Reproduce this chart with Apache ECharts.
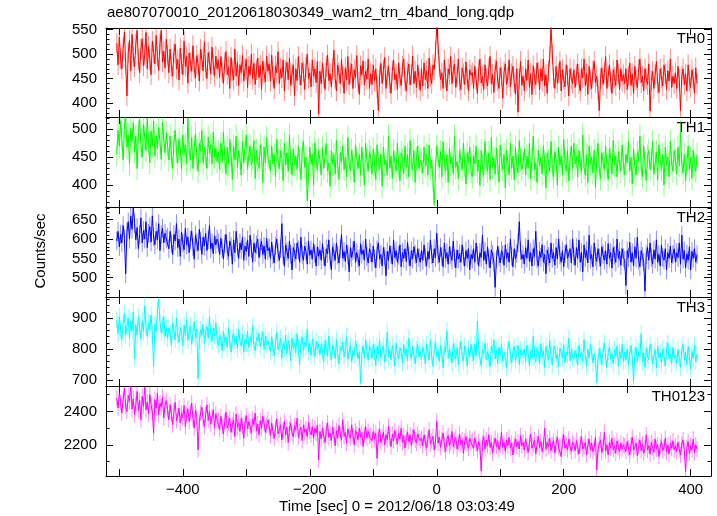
<!DOCTYPE html>
<html><head><meta charset="utf-8">
<script src="https://cdn.jsdelivr.net/npm/echarts@6/dist/echarts.min.js"></script>
<style>html,body{margin:0;padding:0;background:#fff}#c{width:717px;height:516px}</style>
</head><body><div id="c"></div>
<script>
// time bins (seconds from 2012/06/18 03:03:49)
const T_START = -504, T_STEP = 2;

const th0 = [
522,478,535,490,470,512,545,481,415,503,528,466,540,495,474,520,548,488,462,510,531,476,498,544,470,515,489,458,526,503,480,538,495,467,521,548,484,506,472,530,
498,462,510,474,455,503,520,470,489,447,512,480,458,526,475,495,441,502,483,465,517,470,452,497,480,445,510,488,466,525,472,450,503,486,460,514,478,455,496,470,
488,452,495,463,440,482,505,458,474,430,493,466,447,510,455,484,436,478,462,497,445,470,489,432,475,458,500,449,481,438,468,492,452,477,428,486,461,443,496,465,
480,445,498,455,430,476,462,505,440,470,452,488,425,466,483,448,492,436,460,478,415,470,446,495,458,437,482,465,428,474,500,450,462,433,488,455,470,442,485,378,
465,440,482,452,428,475,498,446,460,433,470,508,450,425,478,462,440,489,455,420,472,447,495,438,461,480,430,468,452,497,443,418,476,458,486,437,465,449,490,430,
460,438,478,445,470,432,385,455,481,440,468,493,430,457,475,442,420,466,488,447,459,428,482,451,436,475,490,445,425,462,480,437,458,496,440,465,432,478,450,426,
470,435,482,448,465,430,492,455,440,478,468,505,555,520,475,448,462,430,488,452,425,470,458,495,440,466,480,432,455,490,445,428,472,460,438,484,450,425,468,457,
462,430,475,448,420,466,490,441,455,428,478,450,435,470,495,440,458,422,468,486,445,430,472,455,410,463,480,438,452,488,433,460,475,442,418,470,382,450,485,437,
455,425,470,446,488,432,460,418,476,450,438,482,462,428,470,445,490,435,458,420,466,495,555,500,452,430,475,441,460,485,425,468,448,433,478,456,415,470,450,440,
468,432,458,480,440,425,470,452,490,436,460,418,475,448,430,466,485,442,455,428,385,450,472,438,462,495,430,455,478,445,420,468,452,436,488,460,428,470,445,458,
440,470,428,455,482,436,460,420,475,448,432,468,490,442,455,425,470,450,438,480,384,446,465,430,458,485,440,422,470,452,435,478,460,428,466,445,490,432,455,440,
462,430,475,448,385,455,470,438,460,425,478,445,432,468,450,420,472,440];

const th1 = [
455,498,470,515,482,445,506,520,468,490,438,502,478,512,460,488,430,495,518,472,450,508,485,462,520,476,440,497,470,515,452,489,466,503,478,446,512,480,458,494,
470,445,488,452,430,476,498,460,440,482,465,428,490,455,472,438,520,462,445,485,430,468,492,450,425,475,460,498,440,468,452,430,486,458,472,438,495,450,466,442,
460,428,475,442,495,450,420,468,438,482,455,410,470,445,488,432,462,448,418,478,440,465,490,428,455,470,436,448,480,412,462,445,430,472,455,405,468,440,485,450,
452,425,470,438,455,415,482,444,430,462,448,408,475,436,458,425,490,442,418,465,437,452,428,470,445,410,460,478,432,450,372,420,468,438,455,400,476,445,428,462,
445,418,468,430,452,475,425,440,398,462,438,455,420,480,435,410,458,442,470,428,450,415,485,436,426,462,440,405,472,448,430,455,418,468,438,400,475,444,425,460,
450,420,465,438,410,472,442,428,455,398,468,436,445,418,488,430,452,412,462,440,425,475,435,408,458,446,420,470,432,455,415,480,438,428,462,405,448,470,430,445,
440,422,468,435,455,418,472,430,445,410,365,428,470,448,432,460,415,478,440,425,455,405,466,438,450,420,488,432,442,412,462,445,428,475,436,402,458,440,468,425,
415,452,438,470,425,445,400,462,435,418,478,440,425,458,410,485,432,448,420,466,438,405,472,444,428,455,395,462,440,418,475,430,452,410,468,436,422,480,445,428,
440,465,418,452,430,475,412,446,488,428,440,405,462,435,450,420,470,438,395,458,442,425,478,430,415,460,445,400,468,436,452,418,482,440,425,462,408,448,470,430,
475,438,452,415,462,440,425,490,432,418,455,405,470,438,450,422,462,396,445,475,430,412,458,440,428,470,435,410,465,448,420,480,436,452,415,460,440,425,472,438,
418,455,440,478,425,450,402,465,435,418,458,442,488,430,415,470,440,408,452,462,428,445,478,420,438,460,410,472,445,428,455,400,468,436,450,415,478,440,425,462,
445,420,468,435,495,438,422,455,408,440,470,428,450,412,462,436,425,455];

const th2 = [
595,620,580,612,590,635,602,510,618,645,600,660,625,682,640,598,630,575,612,655,590,622,600,645,578,615,632,592,660,605,585,620,598,640,570,612,628,590,615,600,
605,575,620,588,560,612,595,640,578,600,555,618,590,572,628,585,605,565,598,620,580,548,610,592,570,625,595,560,605,582,615,570,598,635,575,590,562,608,585,600,
590,560,602,575,548,588,612,570,555,595,580,535,598,565,620,578,550,590,572,605,545,582,568,598,555,610,575,540,590,565,585,600,552,578,595,560,582,548,602,570,
578,550,592,560,538,582,600,565,545,575,640,558,530,585,568,550,595,560,520,578,565,548,590,572,540,605,560,545,582,568,535,595,558,572,548,588,562,530,580,555,
572,545,588,555,530,575,562,598,548,520,580,565,545,590,558,538,575,612,550,568,542,585,560,515,578,552,570,595,540,565,550,530,588,560,572,545,600,555,538,575,
565,540,582,550,525,572,590,548,560,530,578,555,505,568,545,582,560,535,598,552,570,540,558,585,528,565,550,575,542,592,555,530,570,548,580,560,538,575,552,540,
570,545,585,552,530,568,548,598,560,538,575,552,615,560,540,578,555,528,590,550,565,535,580,558,545,595,550,525,572,548,562,540,585,555,530,570,550,575,520,560,
548,575,540,590,558,530,565,552,610,545,568,535,580,550,525,572,560,540,475,548,582,555,538,570,560,532,585,550,565,540,600,555,528,575,548,562,590,645,570,548,
560,535,578,550,598,542,565,530,575,555,620,548,530,568,552,585,540,560,510,572,555,538,590,550,565,532,578,548,600,558,540,570,528,562,585,550,545,575,538,600,
555,532,578,550,598,540,565,515,585,552,570,538,610,548,560,528,590,555,542,575,552,530,580,560,545,570,535,588,550,565,525,578,558,540,600,550,568,532,575,552,
545,480,570,552,592,540,565,530,580,550,605,545,528,570,555,540,465,560,578,545,590,552,535,572,548,598,540,560,530,585,552,545,575,520,565,550,582,538,560,575,
540,565,552,590,535,610,548,570,525,562,545,580,520,568,550,575,540,560];

const th3 = [
895,850,905,862,830,880,915,845,872,900,835,890,858,920,770,878,845,905,868,832,892,855,940,870,840,885,862,910,848,745,880,858,925,960,890,852,875,905,840,868,
835,868,850,812,885,858,830,900,845,822,870,855,810,878,842,895,828,860,875,815,852,890,838,865,705,830,862,845,880,818,855,872,835,905,848,825,868,842,885,830,
812,845,830,795,858,822,840,805,870,828,790,835,852,815,842,800,865,825,810,848,790,832,818,858,805,840,822,875,810,795,838,826,850,808,830,855,798,842,815,828,
825,792,840,805,778,820,855,798,812,835,770,818,800,845,785,828,810,762,835,802,820,788,850,805,750,815,838,795,822,808,865,790,818,780,832,805,775,825,800,815,
782,815,795,760,828,805,778,842,790,765,812,798,770,830,785,752,808,795,822,775,800,840,768,790,812,758,795,780,825,802,770,790,690,785,810,772,830,795,765,808,
800,770,815,790,748,808,785,830,772,795,810,760,788,855,775,798,765,812,790,745,820,785,768,805,792,755,815,778,800,762,835,790,770,808,782,752,798,815,775,792,
770,805,788,752,815,790,765,830,778,745,800,822,775,795,760,812,785,740,808,792,860,770,798,782,755,818,790,768,805,750,795,825,780,762,810,788,745,802,776,815,
790,760,815,778,890,805,770,748,798,785,820,765,792,775,742,810,788,830,768,795,752,805,780,815,760,790,772,740,800,825,778,755,792,808,765,785,812,750,798,780,
775,800,758,812,785,745,795,770,842,780,760,805,790,752,818,775,795,740,808,785,765,828,778,750,798,810,768,785,745,802,792,770,815,755,790,780,835,762,798,775,
768,795,780,748,812,775,790,760,830,782,745,800,770,815,792,755,785,768,692,765,802,778,750,795,820,772,740,790,805,768,785,752,798,778,810,745,792,770,815,760,
790,765,800,748,785,812,770,695,780,805,758,792,775,850,760,788,742,802,778,765,815,790,752,780,798,740,810,772,788,755,800,778,745,795,820,768,785,752,805,772,
780,755,800,770,742,795,815,765,788,750,808,778,735,792,770,812,760,785];

const th0123 = [
2480,2420,2510,2455,2390,2470,2540,2430,2400,2495,2460,2550,2415,2475,2380,2440,2520,2405,2465,2350,2490,2430,2545,2410,2455,2385,2500,2440,2395,2270,2470,2420,2510,2380,2450,2425,2485,2360,2440,2465,
2410,2350,2440,2385,2320,2400,2455,2345,2375,2420,2330,2390,2360,2435,2310,2380,2415,2340,2395,2450,2355,2300,2405,2370,2170,2335,2390,2425,2350,2310,2380,2440,2345,2400,2325,2365,2410,2300,2385,2350,
2345,2290,2370,2310,2265,2340,2395,2300,2330,2360,2275,2320,2350,2250,2385,2305,2335,2280,2360,2315,2240,2330,2375,2295,2340,2310,2270,2355,2320,2390,2285,2325,2260,2345,2300,2370,2330,2275,2315,2350,
2310,2255,2330,2280,2240,2300,2355,2265,2290,2320,2230,2285,2340,2260,2305,2215,2295,2330,2270,2250,2315,2290,2360,2245,2280,2305,2225,2320,2275,2295,2250,2335,2285,2260,2310,2240,2300,2270,2320,2110,
2280,2235,2300,2255,2215,2290,2330,2245,2270,2225,2305,2260,2195,2285,2240,2315,2265,2230,2350,2250,2275,2210,2295,2260,2240,2320,2255,2200,2285,2265,2230,2300,2245,2275,2190,2260,2310,2240,2280,2250,
2260,2225,2280,2235,2270,2120,2250,2295,2215,2245,2275,2200,2260,2230,2310,2240,2190,2265,2225,2285,2245,2205,2270,2235,2300,2215,2255,2180,2240,2275,2220,2260,2195,2250,2290,2230,2210,2265,2240,2225,
2240,2195,2260,2215,2180,2235,2290,2205,2225,2250,2170,2220,2340,2210,2245,2185,2230,2270,2200,2160,2235,2255,2195,2215,2280,2190,2225,2245,2175,2210,2265,2200,2230,2150,2220,2250,2205,2180,2240,2215,
2225,2180,2240,2205,2165,2220,2190,2045,2210,2250,2175,2230,2195,2260,2185,2215,2150,2205,2240,2190,2225,2170,2200,2275,2185,2215,2160,2230,2195,2245,2180,2210,2140,2200,2235,2190,2220,2175,2255,2195,
2215,2170,2235,2195,2155,2210,2265,2180,2200,2230,2145,2205,2250,2185,2220,2160,2195,2300,2175,2215,2190,2240,2165,2200,2225,2150,2210,2245,2185,2195,2130,2220,2260,2180,2205,2170,2235,2190,2160,2215,
2200,2165,2225,2185,2145,2205,2250,2175,2190,2215,2140,2195,2235,2170,2210,2160,2185,2245,2050,2170,2205,2230,2155,2190,2275,2165,2200,2140,2215,2180,2240,2170,2195,2150,2225,2185,2160,2210,2175,2200,
2195,2160,2220,2180,2140,2200,2245,2170,2185,2210,2135,2190,2230,2165,2205,2150,2180,2260,2170,2195,2145,2215,2185,2155,2235,2175,2200,2130,2190,2220,2165,2185,2240,2160,2200,2145,2210,2180,2225,2170,
2195,2160,2215,2175,2140,2205,2230,2165,2040,2185,2220,2150,2195,2170,2235,2155,2200,2175];

const seriesValues = [th0, th1, th2, th3, th0123];
const panelNames = ['TH0', 'TH1', 'TH2', 'TH3', 'TH0123'];
const errors = [21, 21, 24, 28, 47];
const colors = ['#ff0000', '#00ff00', '#0000ff', '#00ffff', '#ff00ff'];
const yRanges = [[372, 553], [361, 522], [450, 683], [681, 968], [2014, 2552]];
const yLabels = [[400, 450, 500, 550], [400, 450, 500], [500, 550, 600, 650], [700, 800, 900], [2200, 2400]];
const yMinorStep = [10, 10, 10, 20, 100];
const xRange = [-521, 432];
const xTicks = [-500, -400, -300, -200, -100, 0, 100, 200, 300, 400];
const xLabels = [-400, -200, 0, 200, 400];
const titleText = 'ae807070010_20120618030349_wam2_trn_4band_long.qdp';
const xName = 'Time [sec] 0 = 2012/06/18 03:03:49';
const yName = 'Counts/sec';

const FONT = '"Liberation Sans", Arial, Helvetica, sans-serif';
const gridTops = [28, 117, 207, 297, 386];
const gridHeights = [89, 90, 90, 89, 90];

const grids = [], xAxes = [], yAxes = [], series = [], graphics = [];
const black = '#000';

for (let i = 0; i < 5; i++) {
  grids.push({ left: 106, right: 6, top: gridTops[i], height: gridHeights[i], containLabel: false });
  const xBase = {
    type: 'value', gridIndex: i, min: xRange[0], max: xRange[1],
    splitLine: { show: false },
    axisLine: { show: true, onZero: false, lineStyle: { color: black, width: 1 } },
    axisTick: { show: true, inside: true, length: 7, customValues: xTicks, lineStyle: { color: black, width: 1 } }
  };
  xAxes.push(Object.assign({}, xBase, {
    position: 'bottom',
    axisLabel: {
      show: i === 4, customValues: xLabels, color: black, fontSize: 15, fontFamily: FONT, margin: 6,
      formatter: v => String(v).replace('-', '\u2212')
    }
  }));
  xAxes.push(Object.assign({}, xBase, { position: 'top', axisLabel: { show: false, customValues: xLabels } }));

  const minor = [];
  const [lo, hi] = yRanges[i];
  for (let v = Math.ceil(lo / yMinorStep[i]) * yMinorStep[i]; v <= hi; v += yMinorStep[i]) minor.push(v);

  const yBase = { type: 'value', gridIndex: i, min: lo, max: hi, splitLine: { show: false } };
  ['left', 'right'].forEach(pos => {
    yAxes.push(Object.assign({}, yBase, {
      position: pos,
      axisLine: { show: true, onZero: false, lineStyle: { color: black, width: 1 } },
      axisTick: { show: true, inside: true, length: 7, customValues: yLabels[i], lineStyle: { color: black, width: 1 } },
      axisLabel: { show: pos === 'left', customValues: yLabels[i], color: black, fontSize: 15, fontFamily: FONT, margin: 9,
        formatter: v => String(v) }
    }));
    yAxes.push(Object.assign({}, yBase, {
      position: pos,
      axisLine: { show: false, onZero: false },
      axisTick: { show: true, inside: true, length: 3.5, customValues: minor, lineStyle: { color: black, width: 1 } },
      axisLabel: { show: false, customValues: minor }
    }));
  });

  const pts = seriesValues[i].map((v, k) => [T_START + k * T_STEP, v]);
  const err = errors[i];
  const col = colors[i];
  series.push({
    type: 'custom', xAxisIndex: 2 * i, yAxisIndex: 4 * i, silent: true, animation: false,
    data: pts,
    renderItem: (params, api) => {
      const x = api.value(0), y = api.value(1);
      const cs = params.coordSys;
      const p1 = api.coord([x, y - err]);
      const p2 = api.coord([x, y + err]);
      const top = cs.y, bot = cs.y + cs.height;
      const y1 = Math.min(bot, Math.max(top, p1[1]));
      const y2 = Math.min(bot, Math.max(top, p2[1]));
      return { type: 'line', shape: { x1: p1[0], y1: y1, x2: p2[0], y2: y2 },
        style: { stroke: col, opacity: 0.45, lineWidth: 1 } };
    }
  });
  series.push({
    type: 'line', xAxisIndex: 2 * i, yAxisIndex: 4 * i, data: pts, showSymbol: false, symbol: 'none',
    silent: true, animation: false, clip: true, sampling: null,
    lineStyle: { color: col, width: 1 }
  });

  graphics.push({
    type: 'text', right: 12, top: gridTops[i] + 3, silent: true,
    style: { text: panelNames[i], fill: black, font: '15px ' + FONT }
  });
}

graphics.push({ type: 'text', left: 107, top: 5, silent: true,
  style: { text: titleText, fill: black, font: '15px ' + FONT } });
graphics.push({ type: 'text', x: 397, y: 507, silent: true,
  style: { text: xName, fill: black, font: '15px ' + FONT, textAlign: 'center', textVerticalAlign: 'middle' } });
graphics.push({ type: 'text', x: 41, y: 251, rotation: Math.PI / 2, silent: true,
  style: { text: yName, fill: black, font: '15px ' + FONT, textAlign: 'center', textVerticalAlign: 'middle' } });

const chart = echarts.init(document.getElementById('c'), null, { renderer: 'canvas' });
chart.setOption({
  backgroundColor: '#fff',
  animation: false,
  grid: grids, xAxis: xAxes, yAxis: yAxes, series: series, graphic: graphics
});
</script></body></html>
